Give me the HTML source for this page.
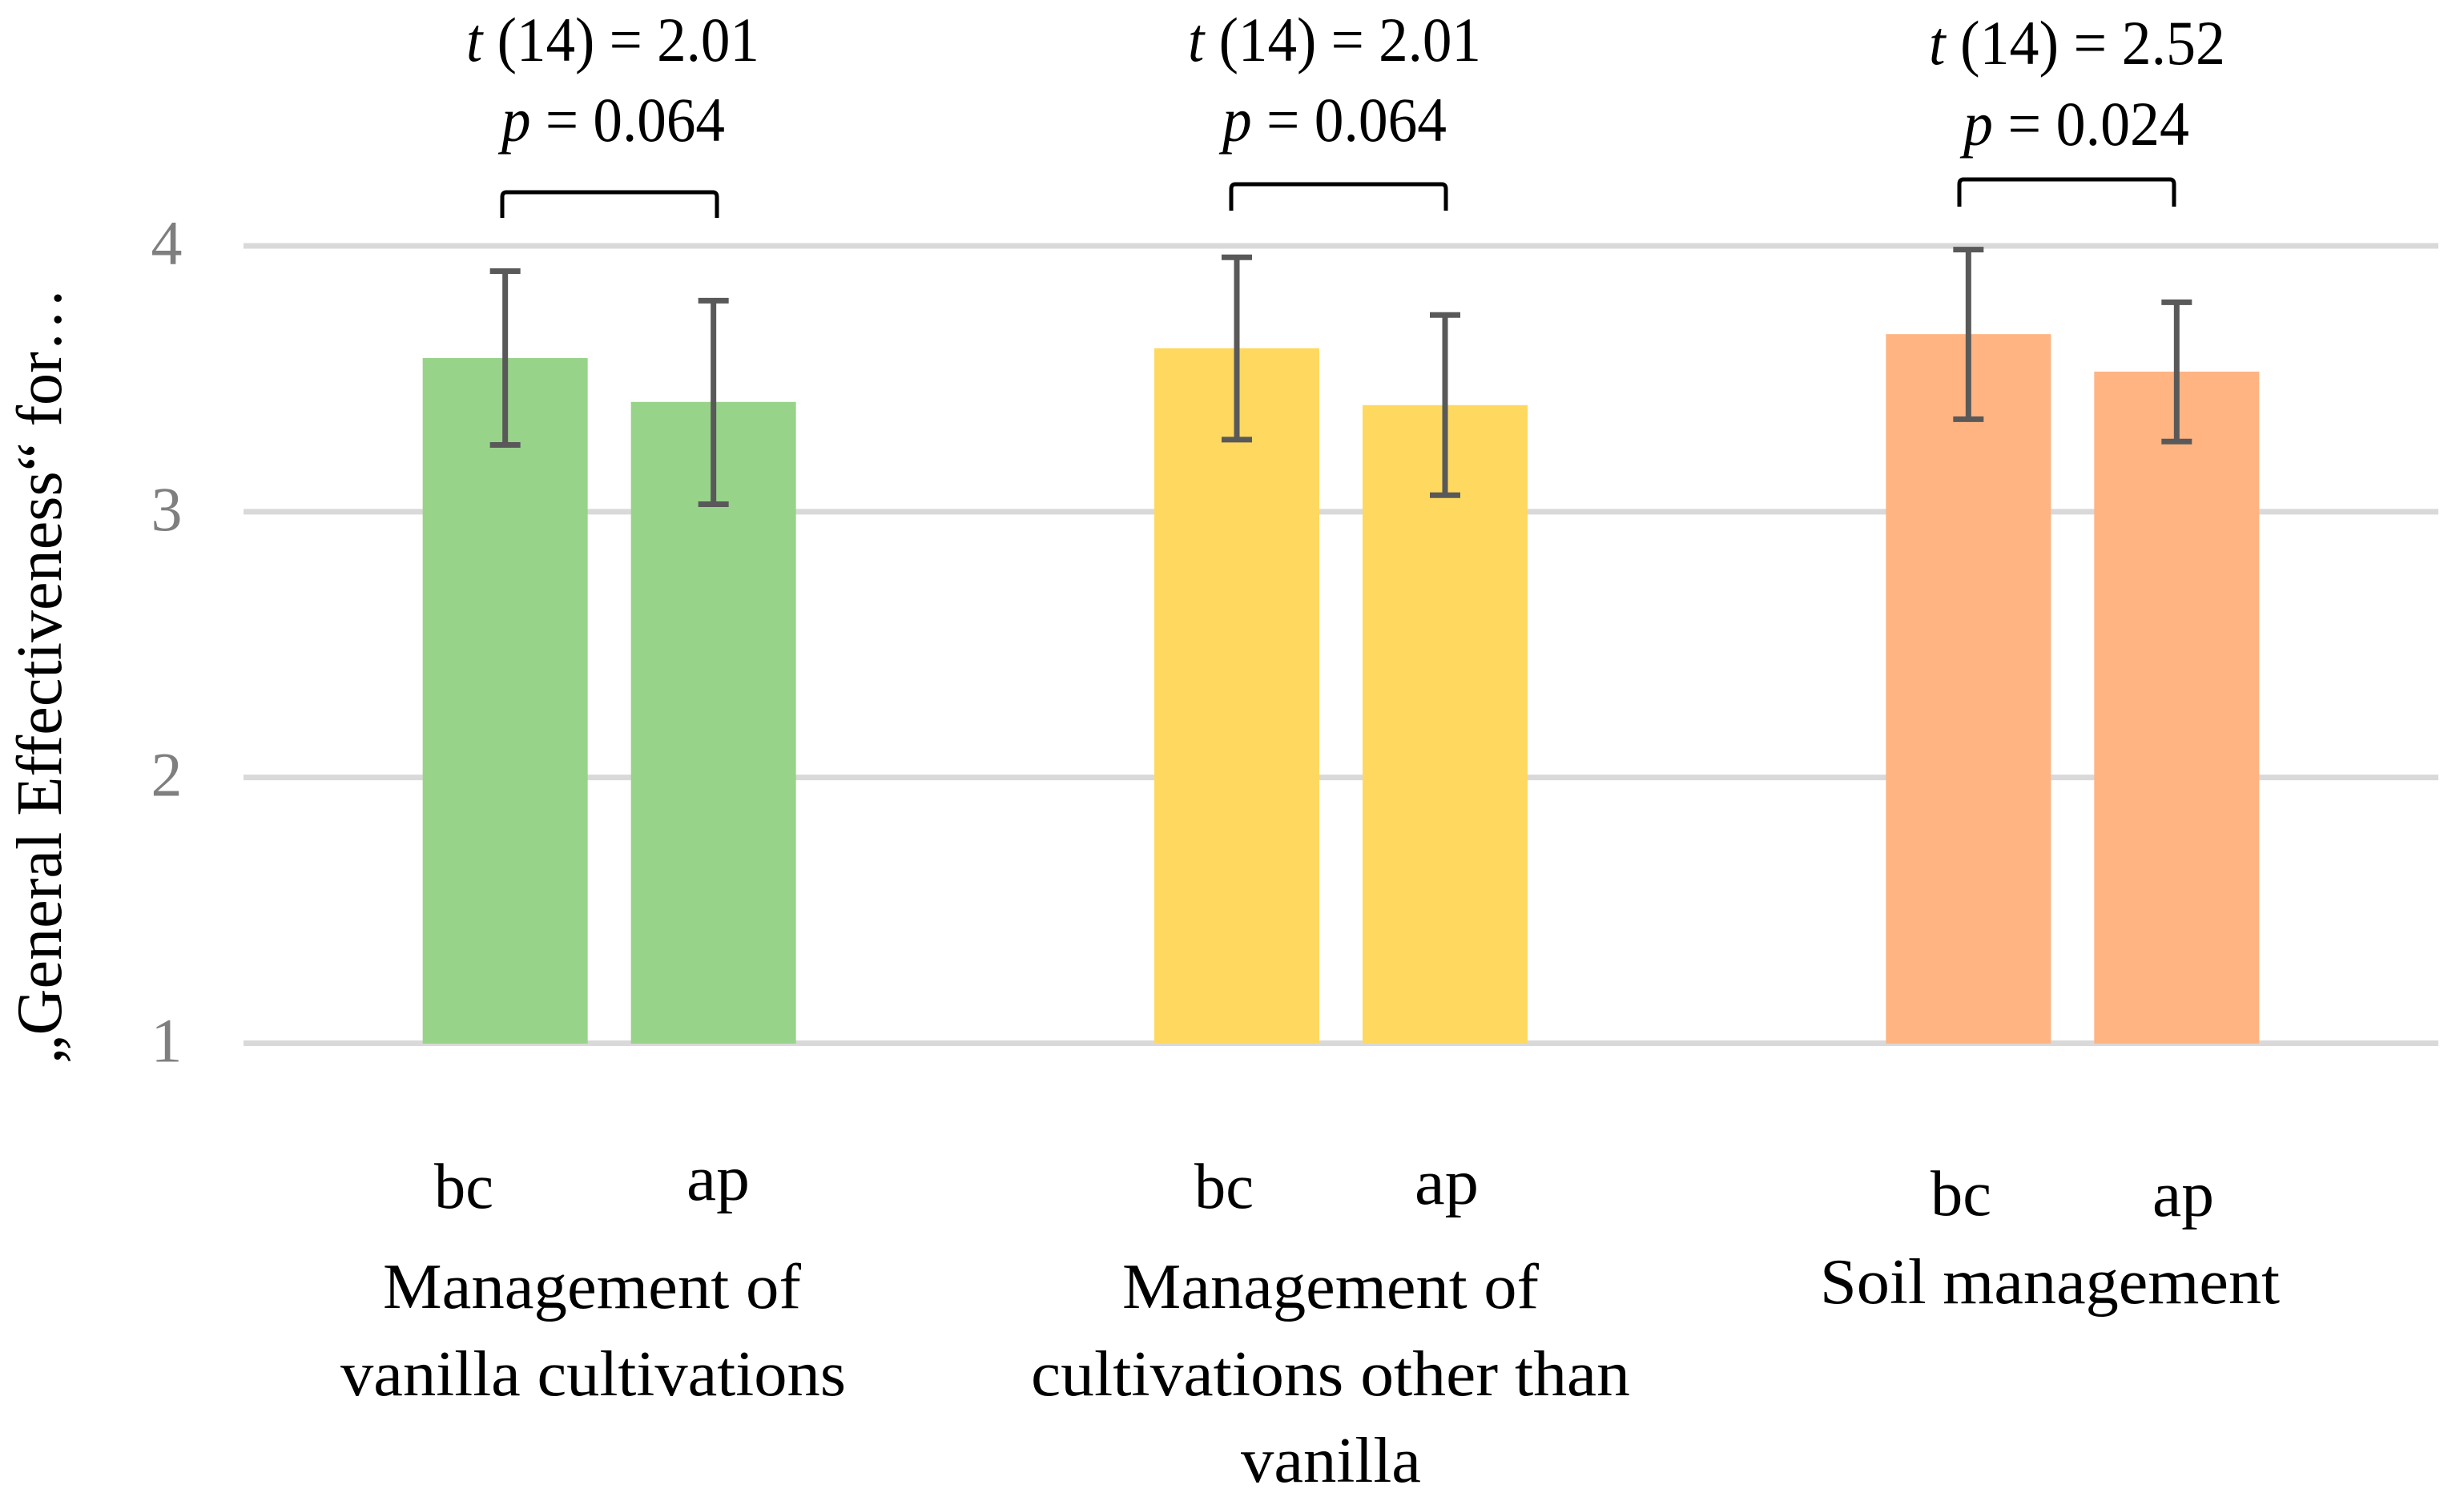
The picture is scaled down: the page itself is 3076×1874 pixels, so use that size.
<!DOCTYPE html>
<html lang="en">
<head>
<meta charset="utf-8">
<title>General Effectiveness bar chart</title>
<style>
html,body{margin:0;padding:0;background:#fff;width:3076px;height:1874px;overflow:hidden}
svg{display:block}
text{font-family:"Liberation Serif","DejaVu Serif",serif;fill:#000;font-size:80px}
text.stat{font-size:78px}
.i{font-style:italic}
</style>
</head>
<body>
<svg id="chart" xmlns="http://www.w3.org/2000/svg" width="3076" height="1874" viewBox="0 0 3076 1874">
  <rect x="0" y="0" width="3076" height="1874" fill="#ffffff"/>
  <g id="grid"></g>
  <g id="ticks"></g>
  <g id="bars"></g>
  <g id="errs"></g>

  <text transform="translate(76,1328) rotate(-90)" x="0" y="0" textLength="969" lengthAdjust="spacingAndGlyphs">„General Effectiveness“ for…</text>

  <text class="stat" x="582" y="76" textLength="366" lengthAdjust="spacingAndGlyphs"><tspan class="i">t</tspan> (14) = 2.01</text>
  <text class="stat" x="626" y="176" textLength="279" lengthAdjust="spacingAndGlyphs"><tspan class="i">p</tspan> = 0.064</text>
  <text class="stat" x="1483" y="76" textLength="366" lengthAdjust="spacingAndGlyphs"><tspan class="i">t</tspan> (14) = 2.01</text>
  <text class="stat" x="1526" y="176" textLength="280" lengthAdjust="spacingAndGlyphs"><tspan class="i">p</tspan> = 0.064</text>
  <text class="stat" x="2408" y="80" textLength="370" lengthAdjust="spacingAndGlyphs"><tspan class="i">t</tspan> (14) = 2.52</text>
  <text class="stat" x="2451" y="181" textLength="282" lengthAdjust="spacingAndGlyphs"><tspan class="i">p</tspan> = 0.024</text>

  <path d="M627 272 V246 Q627 240 632 240 H890 Q895 240 895 246 V272" fill="none" stroke="#000" stroke-width="5"/>
  <path d="M1537 263 V236 Q1537 230 1542 230 H1800 Q1805 230 1805 236 V263" fill="none" stroke="#000" stroke-width="5"/>
  <path d="M2446 258 V230 Q2446 224 2451 224 H2709 Q2714 224 2714 230 V258" fill="none" stroke="#000" stroke-width="5"/>

  <text x="542" y="1508" textLength="74" lengthAdjust="spacingAndGlyphs">bc</text>
  <text x="857" y="1498" textLength="79" lengthAdjust="spacingAndGlyphs">ap</text>
  <text x="1491" y="1508" textLength="74" lengthAdjust="spacingAndGlyphs">bc</text>
  <text x="1766" y="1503" textLength="80" lengthAdjust="spacingAndGlyphs">ap</text>
  <text x="2410" y="1517" textLength="76" lengthAdjust="spacingAndGlyphs">bc</text>
  <text x="2687" y="1518" textLength="77" lengthAdjust="spacingAndGlyphs">ap</text>

  <text x="478" y="1633" textLength="522" lengthAdjust="spacingAndGlyphs">Management of</text>
  <text x="425" y="1742" textLength="631" lengthAdjust="spacingAndGlyphs">vanilla cultivations</text>
  <text x="1401" y="1633" textLength="520" lengthAdjust="spacingAndGlyphs">Management of</text>
  <text x="1287" y="1742" textLength="748" lengthAdjust="spacingAndGlyphs">cultivations other than</text>
  <text x="1549" y="1850" textLength="225" lengthAdjust="spacingAndGlyphs">vanilla</text>
  <text x="2272" y="1627" textLength="574" lengthAdjust="spacingAndGlyphs">Soil management</text>
</svg>
<script>
// Chart data
const groups = ['vanilla', 'other', 'soil'];
const seriesNames = ['bc', 'ap'];
const tickLabels = [1, 2, 3, 4];
const groupColors = ['#98d38a', '#ffd95f', '#ffb482'];
const bcMeans = [3.578, 3.615, 3.668];
const apMeans = [3.413, 3.401, 3.527];
const bcHigh = [3.905, 3.957, 3.986];
const bcLow = [3.251, 3.271, 3.348];
const apHigh = [3.794, 3.740, 3.788];
const apLow = [3.028, 3.062, 3.264];

// Axis functions
const plotLeft = 304, plotRight = 3044, yAt1 = 1302.5, yAt4 = 307;
const barW = 206, barStep = 260;
function yScale(v) { return yAt1 + (v - 1) * (yAt4 - yAt1) / 3; }
function groupCenter(g) { return plotLeft + (plotRight - plotLeft) * (g + 0.5) / groups.length; }
function barCenter(g, s) { return groupCenter(g) + (s - 0.5) * barStep; }

const NS = 'http://www.w3.org/2000/svg';
function mk(parent, tag, attrs) {
  const el = document.createElementNS(NS, tag);
  for (const k in attrs) el.setAttribute(k, attrs[k]);
  parent.appendChild(el);
  return el;
}
const gridG = document.getElementById('grid');
const ticksG = document.getElementById('ticks');
const barsG = document.getElementById('bars');
const errsG = document.getElementById('errs');

tickLabels.forEach(function (t) {
  const y = yScale(t);
  const line = mk(gridG, 'line', { x1: plotLeft, x2: plotRight, y1: y, y2: y, stroke: '#d9d9d9', 'stroke-width': 7 });
  
  
  const label = mk(ticksG, 'text', { x: 208, y: y + 23, 'text-anchor': 'middle' });
  
  
  label.style.fill = '#7f7f7f';
  label.style.fontSize = '78px';
  label.textContent = t;
});

const meansBySeries = [bcMeans, apMeans];
const highBySeries = [bcHigh, apHigh];
const lowBySeries = [bcLow, apLow];
groups.forEach(function (name, g) {
  seriesNames.forEach(function (sName, s) {
    const cx = barCenter(g, s);
    const top = yScale(meansBySeries[s][g]);
    const rect = mk(barsG, 'rect', { x: cx - barW / 2, y: top, width: barW, height: yScale(1) - top + 0.5, fill: groupColors[g] });
    
    
    const hi = yScale(highBySeries[s][g]);
    const lo = yScale(lowBySeries[s][g]);
    const err = mk(errsG, 'path', {
      d: 'M' + cx + ' ' + hi + 'V' + lo + 'M' + (cx - 19) + ' ' + hi + 'H' + (cx + 19) + 'M' + (cx - 19) + ' ' + lo + 'H' + (cx + 19),
      fill: 'none', stroke: '#595959', 'stroke-width': 7
    });
    
    
  });
});
</script>
</body>
</html>
